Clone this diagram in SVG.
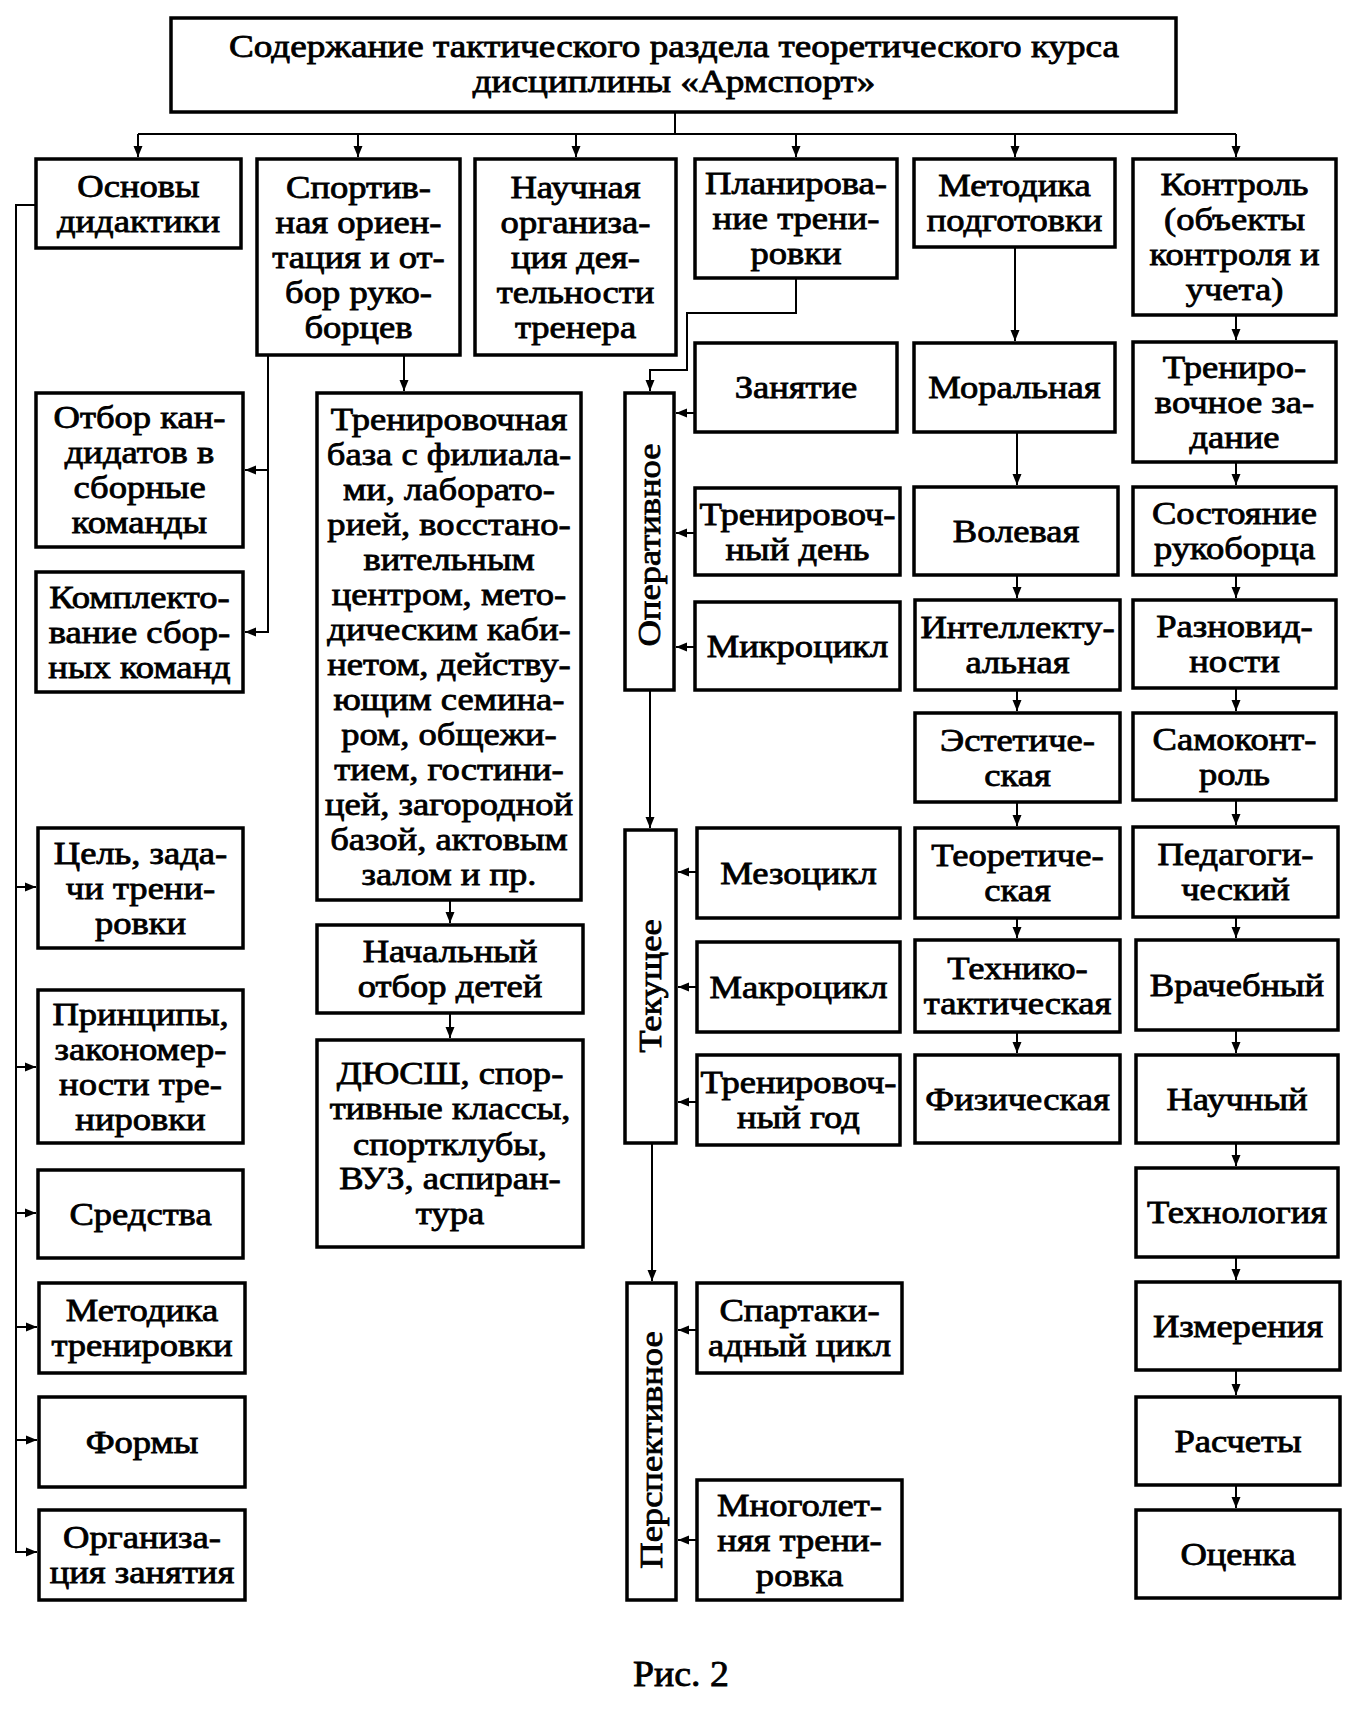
<svg xmlns="http://www.w3.org/2000/svg" width="1355" height="1712" viewBox="0 0 1355 1712">
<style>
.b{fill:#fff;stroke:#000;stroke-width:3.5}
.t{font-family:"Liberation Serif","Times New Roman",serif;font-size:31px;text-anchor:middle;fill:#000;stroke:#000;stroke-width:0.8}
.c{fill:none;stroke:#000;stroke-width:2}
.a{marker-end:url(#ah)}
</style>
<defs>
<marker id="ah" markerWidth="12" markerHeight="10" refX="11" refY="5" orient="auto" markerUnits="userSpaceOnUse"><path d="M0,0.5 L11,5 L0,9.5 z" fill="#000"/></marker>
</defs>
<rect width="1355" height="1712" fill="#fff"/>
<g id="connectors">
<path class="c" d="M675,112 V134 M138,134 H1236"/>
<path class="c a" d="M138,134 V157"/>
<path class="c a" d="M358,134 V157"/>
<path class="c a" d="M576,134 V157"/>
<path class="c a" d="M796,134 V157"/>
<path class="c a" d="M1015,134 V157"/>
<path class="c a" d="M1236,134 V157"/>
<path class="c a" d="M36,205 H16 V1552 H37"/>
<path class="c a" d="M16,887 H36"/>
<path class="c a" d="M16,1067 H36"/>
<path class="c a" d="M16,1213 H36"/>
<path class="c a" d="M16,1327 H37"/>
<path class="c a" d="M16,1440 H37"/>
<path class="c a" d="M268,355 V632 H245"/>
<path class="c a" d="M268,470 H245"/>
<path class="c a" d="M404,355 V391"/>
<path class="c a" d="M450,900 V923"/>
<path class="c a" d="M450,1013 V1038"/>
<path class="c a" d="M796,278 V313 H687 V370 H650 V391"/>
<path class="c a" d="M650,690 V828"/>
<path class="c a" d="M652,1143 V1281"/>
<path class="c a" d="M695,413 H676"/>
<path class="c a" d="M695,533 H676"/>
<path class="c a" d="M695,647 H676"/>
<path class="c a" d="M697,872 H678"/>
<path class="c a" d="M697,987 H678"/>
<path class="c a" d="M697,1102 H678"/>
<path class="c a" d="M697,1330 H678"/>
<path class="c a" d="M697,1540 H678"/>
<path class="c a" d="M1015,247 V341"/>
<path class="c a" d="M1017,432 V485"/>
<path class="c a" d="M1017,575 V598"/>
<path class="c a" d="M1017,690 V711"/>
<path class="c a" d="M1017,802 V826"/>
<path class="c a" d="M1017,918 V938"/>
<path class="c a" d="M1017,1032 V1053"/>
<path class="c a" d="M1236,315 V340"/>
<path class="c a" d="M1236,462 V485"/>
<path class="c a" d="M1236,575 V598"/>
<path class="c a" d="M1236,688 V711"/>
<path class="c a" d="M1236,800 V825"/>
<path class="c a" d="M1236,917 V938"/>
<path class="c a" d="M1236,1030 V1053"/>
<path class="c a" d="M1236,1143 V1166"/>
<path class="c a" d="M1236,1257 V1280"/>
<path class="c a" d="M1236,1370 V1395"/>
<path class="c a" d="M1236,1485 V1508"/>
</g>
<g id="title"><rect class="b" x="171" y="18" width="1005" height="94"/><text class="t" transform="matrix(1.2 0 0 1 674 0)"><tspan x="0" y="57">Содержание тактического раздела теоретического курса</tspan><tspan x="0" y="92">дисциплины «Армспорт»</tspan></text></g>
<g id="osnovy"><rect class="b" x="36" y="159" width="205" height="89"/><text class="t" transform="matrix(1.18 0 0 1 138.5 0)"><tspan x="0" y="197">Основы</tspan><tspan x="0" y="232">дидактики</tspan></text></g>
<g id="sport"><rect class="b" x="257" y="159" width="203" height="196"/><text class="t" transform="matrix(1.18 0 0 1 358.5 0)"><tspan x="0" y="198">Спортив-</tspan><tspan x="0" y="233">ная ориен-</tspan><tspan x="0" y="268">тация и от-</tspan><tspan x="0" y="303">бор руко-</tspan><tspan x="0" y="338">борцев</tspan></text></g>
<g id="nauch_org"><rect class="b" x="475" y="159" width="201" height="196"/><text class="t" transform="matrix(1.18 0 0 1 575.5 0)"><tspan x="0" y="198">Научная</tspan><tspan x="0" y="233">организа-</tspan><tspan x="0" y="268">ция дея-</tspan><tspan x="0" y="303">тельности</tspan><tspan x="0" y="338">тренера</tspan></text></g>
<g id="plan"><rect class="b" x="695" y="159" width="202" height="119"/><text class="t" transform="matrix(1.18 0 0 1 796 0)"><tspan x="0" y="194.5">Планирова-</tspan><tspan x="0" y="229.5">ние трени-</tspan><tspan x="0" y="264.5">ровки</tspan></text></g>
<g id="metod"><rect class="b" x="914" y="159" width="201" height="88"/><text class="t" transform="matrix(1.18 0 0 1 1014.5 0)"><tspan x="0" y="196.5">Методика</tspan><tspan x="0" y="231.5">подготовки</tspan></text></g>
<g id="kontrol"><rect class="b" x="1133" y="159" width="203" height="156"/><text class="t" transform="matrix(1.18 0 0 1 1234.5 0)"><tspan x="0" y="195.5">Контроль</tspan><tspan x="0" y="230.5">(объекты</tspan><tspan x="0" y="265.5">контроля и</tspan><tspan x="0" y="300.5">учета)</tspan></text></g>
<g id="otbor"><rect class="b" x="36" y="393" width="207" height="154"/><text class="t" transform="matrix(1.18 0 0 1 139.5 0)"><tspan x="0" y="428.5">Отбор кан-</tspan><tspan x="0" y="463.5">дидатов в</tspan><tspan x="0" y="498.5">сборные</tspan><tspan x="0" y="533.5">команды</tspan></text></g>
<g id="kompl"><rect class="b" x="36" y="572" width="207" height="120"/><text class="t" transform="matrix(1.18 0 0 1 139.5 0)"><tspan x="0" y="608">Комплекто-</tspan><tspan x="0" y="643">вание сбор-</tspan><tspan x="0" y="678">ных команд</tspan></text></g>
<g id="cel"><rect class="b" x="38" y="828" width="205" height="120"/><text class="t" transform="matrix(1.18 0 0 1 140.5 0)"><tspan x="0" y="864">Цель, зада-</tspan><tspan x="0" y="899">чи трени-</tspan><tspan x="0" y="934">ровки</tspan></text></g>
<g id="princ"><rect class="b" x="38" y="990" width="205" height="153"/><text class="t" transform="matrix(1.18 0 0 1 140.5 0)"><tspan x="0" y="1025">Принципы,</tspan><tspan x="0" y="1060">закономер-</tspan><tspan x="0" y="1095">ности тре-</tspan><tspan x="0" y="1130">нировки</tspan></text></g>
<g id="sredstva"><rect class="b" x="38" y="1170" width="205" height="88"/><text class="t" transform="matrix(1.18 0 0 1 140.5 0)" x="0" y="1225">Средства</text></g>
<g id="metod_tr"><rect class="b" x="39" y="1283" width="206" height="90"/><text class="t" transform="matrix(1.18 0 0 1 142 0)"><tspan x="0" y="1321.5">Методика</tspan><tspan x="0" y="1356.5">тренировки</tspan></text></g>
<g id="formy"><rect class="b" x="39" y="1397" width="206" height="90"/><text class="t" transform="matrix(1.18 0 0 1 142 0)" x="0" y="1453">Формы</text></g>
<g id="organiz"><rect class="b" x="39" y="1510" width="206" height="90"/><text class="t" transform="matrix(1.18 0 0 1 142 0)"><tspan x="0" y="1548.5">Организа-</tspan><tspan x="0" y="1583.5">ция занятия</tspan></text></g>
<g id="baza"><rect class="b" x="317" y="393" width="264" height="507"/><text class="t" transform="matrix(1.18 0 0 1 449 0)"><tspan x="0" y="430">Тренировочная</tspan><tspan x="0" y="465">база с филиала-</tspan><tspan x="0" y="500">ми, лаборато-</tspan><tspan x="0" y="535">рией, восстано-</tspan><tspan x="0" y="570">вительным</tspan><tspan x="0" y="605">центром, мето-</tspan><tspan x="0" y="640">дическим каби-</tspan><tspan x="0" y="675">нетом, действу-</tspan><tspan x="0" y="710">ющим семина-</tspan><tspan x="0" y="745">ром, общежи-</tspan><tspan x="0" y="780">тием, гостини-</tspan><tspan x="0" y="815">цей, загородной</tspan><tspan x="0" y="850">базой, актовым</tspan><tspan x="0" y="885">залом и пр.</tspan></text></g>
<g id="nach"><rect class="b" x="317" y="925" width="266" height="88"/><text class="t" transform="matrix(1.18 0 0 1 450 0)"><tspan x="0" y="962.5">Начальный</tspan><tspan x="0" y="997.5">отбор детей</tspan></text></g>
<g id="dyussh"><rect class="b" x="317" y="1040" width="266" height="207"/><text class="t" transform="matrix(1.18 0 0 1 450 0)"><tspan x="0" y="1084.5">ДЮСШ, спор-</tspan><tspan x="0" y="1119.5">тивные классы,</tspan><tspan x="0" y="1154.5">спортклубы,</tspan><tspan x="0" y="1189.5">ВУЗ, аспиран-</tspan><tspan x="0" y="1224.5">тура</tspan></text></g>
<g id="oper"><rect class="b" x="625" y="393" width="49" height="297"/><text class="t" transform="translate(660,545) rotate(-90) scale(1.18,1)" x="0" y="0">Оперативное</text></g>
<g id="tekush"><rect class="b" x="625" y="830" width="51" height="313"/><text class="t" transform="translate(661,986) rotate(-90) scale(1.18,1)" x="0" y="0">Текущее</text></g>
<g id="perspekt"><rect class="b" x="627" y="1283" width="49" height="317"/><text class="t" transform="translate(662,1450) rotate(-90) scale(1.18,1)" x="0" y="0">Перспективное</text></g>
<g id="zanyatie"><rect class="b" x="695" y="343" width="202" height="89"/><text class="t" transform="matrix(1.18 0 0 1 796 0)" x="0" y="398.5">Занятие</text></g>
<g id="tr_den"><rect class="b" x="695" y="488" width="205" height="87"/><text class="t" transform="matrix(1.18 0 0 1 797.5 0)"><tspan x="0" y="525">Тренировоч-</tspan><tspan x="0" y="560">ный день</tspan></text></g>
<g id="mikro"><rect class="b" x="695" y="602" width="205" height="88"/><text class="t" transform="matrix(1.18 0 0 1 797.5 0)" x="0" y="657">Микроцикл</text></g>
<g id="mezo"><rect class="b" x="697" y="828" width="203" height="90"/><text class="t" transform="matrix(1.18 0 0 1 798.5 0)" x="0" y="884">Мезоцикл</text></g>
<g id="makro"><rect class="b" x="697" y="942" width="203" height="90"/><text class="t" transform="matrix(1.18 0 0 1 798.5 0)" x="0" y="998">Макроцикл</text></g>
<g id="tr_god"><rect class="b" x="697" y="1055" width="203" height="90"/><text class="t" transform="matrix(1.18 0 0 1 798.5 0)"><tspan x="0" y="1093.5">Тренировоч-</tspan><tspan x="0" y="1128.5">ный год</tspan></text></g>
<g id="spart"><rect class="b" x="697" y="1283" width="205" height="90"/><text class="t" transform="matrix(1.18 0 0 1 799.5 0)"><tspan x="0" y="1321.5">Спартаки-</tspan><tspan x="0" y="1356.5">адный цикл</tspan></text></g>
<g id="mnogolet"><rect class="b" x="697" y="1480" width="205" height="120"/><text class="t" transform="matrix(1.18 0 0 1 799.5 0)"><tspan x="0" y="1516">Многолет-</tspan><tspan x="0" y="1551">няя трени-</tspan><tspan x="0" y="1586">ровка</tspan></text></g>
<g id="moral"><rect class="b" x="914" y="343" width="201" height="89"/><text class="t" transform="matrix(1.18 0 0 1 1014.5 0)" x="0" y="398.5">Моральная</text></g>
<g id="volev"><rect class="b" x="914" y="487" width="204" height="88"/><text class="t" transform="matrix(1.18 0 0 1 1016 0)" x="0" y="542">Волевая</text></g>
<g id="intel"><rect class="b" x="915" y="600" width="205" height="90"/><text class="t" transform="matrix(1.18 0 0 1 1017.5 0)"><tspan x="0" y="638.5">Интеллекту-</tspan><tspan x="0" y="673.5">альная</tspan></text></g>
<g id="estet"><rect class="b" x="915" y="713" width="205" height="89"/><text class="t" transform="matrix(1.18 0 0 1 1017.5 0)"><tspan x="0" y="751">Эстетиче-</tspan><tspan x="0" y="786">ская</tspan></text></g>
<g id="teor"><rect class="b" x="915" y="828" width="205" height="90"/><text class="t" transform="matrix(1.18 0 0 1 1017.5 0)"><tspan x="0" y="866.5">Теоретиче-</tspan><tspan x="0" y="901.5">ская</tspan></text></g>
<g id="tekhn"><rect class="b" x="915" y="940" width="205" height="92"/><text class="t" transform="matrix(1.18 0 0 1 1017.5 0)"><tspan x="0" y="979.5">Технико-</tspan><tspan x="0" y="1014.5">тактическая</tspan></text></g>
<g id="fiz"><rect class="b" x="915" y="1055" width="205" height="88"/><text class="t" transform="matrix(1.18 0 0 1 1017.5 0)" x="0" y="1110">Физическая</text></g>
<g id="trenir"><rect class="b" x="1133" y="342" width="203" height="120"/><text class="t" transform="matrix(1.18 0 0 1 1234.5 0)"><tspan x="0" y="378">Трениро-</tspan><tspan x="0" y="413">вочное за-</tspan><tspan x="0" y="448">дание</tspan></text></g>
<g id="sost"><rect class="b" x="1133" y="487" width="203" height="88"/><text class="t" transform="matrix(1.18 0 0 1 1234.5 0)"><tspan x="0" y="524.5">Состояние</tspan><tspan x="0" y="559.5">рукоборца</tspan></text></g>
<g id="raznov"><rect class="b" x="1133" y="600" width="203" height="88"/><text class="t" transform="matrix(1.18 0 0 1 1234.5 0)"><tspan x="0" y="637.5">Разновид-</tspan><tspan x="0" y="672.5">ности</tspan></text></g>
<g id="samok"><rect class="b" x="1133" y="713" width="203" height="87"/><text class="t" transform="matrix(1.18 0 0 1 1234.5 0)"><tspan x="0" y="750">Самоконт-</tspan><tspan x="0" y="785">роль</tspan></text></g>
<g id="pedag"><rect class="b" x="1133" y="827" width="205" height="90"/><text class="t" transform="matrix(1.18 0 0 1 1235.5 0)"><tspan x="0" y="865.5">Педагоги-</tspan><tspan x="0" y="900.5">ческий</tspan></text></g>
<g id="vrach"><rect class="b" x="1136" y="940" width="202" height="90"/><text class="t" transform="matrix(1.18 0 0 1 1237 0)" x="0" y="996">Врачебный</text></g>
<g id="nauchn"><rect class="b" x="1136" y="1055" width="202" height="88"/><text class="t" transform="matrix(1.18 0 0 1 1237 0)" x="0" y="1110">Научный</text></g>
<g id="tekhnol"><rect class="b" x="1136" y="1168" width="202" height="89"/><text class="t" transform="matrix(1.18 0 0 1 1237 0)" x="0" y="1223.5">Технология</text></g>
<g id="izmer"><rect class="b" x="1136" y="1282" width="204" height="88"/><text class="t" transform="matrix(1.18 0 0 1 1238 0)" x="0" y="1337">Измерения</text></g>
<g id="raschet"><rect class="b" x="1136" y="1397" width="204" height="88"/><text class="t" transform="matrix(1.18 0 0 1 1238 0)" x="0" y="1452">Расчеты</text></g>
<g id="ocenka"><rect class="b" x="1136" y="1510" width="204" height="88"/><text class="t" transform="matrix(1.18 0 0 1 1238 0)" x="0" y="1565">Оценка</text></g>
<text class="t" style="font-size:36px" transform="matrix(1.05 0 0 1 681 0)" x="0" y="1686">Рис. 2</text>
</svg>
